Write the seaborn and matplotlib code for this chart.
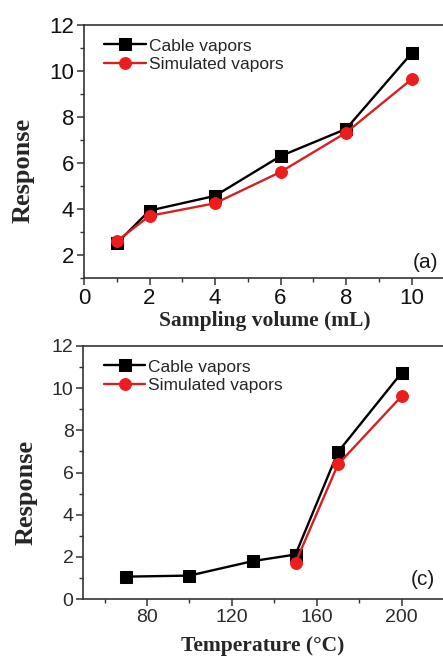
import matplotlib
matplotlib.use("Agg")
import matplotlib.pyplot as plt
import seaborn as sns
from matplotlib.ticker import MultipleLocator

# (a) response vs sampling volume
volume = [1, 2, 4, 6, 8, 10]
cable_vol = [2.51, 3.93, 4.57, 6.30, 7.48, 10.77]
sim_vol = [2.60, 3.70, 4.25, 5.61, 7.32, 9.64]

# (c) response vs temperature
temp_cable = [70, 100, 130, 150, 170, 200]
cable_temp = [1.06, 1.11, 1.80, 2.11, 6.97, 10.73]
temp_sim = [150, 170, 200]
sim_temp = [1.73, 6.38, 9.62]

sns.set_style("ticks")
plt.rcParams['font.family'] = ['Liberation Sans', 'DejaVu Sans']

BLACK = "#000000"
RED_LINE = "#d42222"
RED_MARK = "#ee1c1c"
SPINE = "#333333"
serif_bold = dict(family=['Liberation Serif', 'DejaVu Serif'], weight='bold')

fig = plt.figure(figsize=(4.43, 6.57), dpi=100)
ax1 = fig.add_axes([84 / 443, 1 - 278 / 657, (443 - 84) / 443, 253 / 657])
ax2 = fig.add_axes([83.3 / 443, 1 - 599 / 657, (443 - 83.3) / 443, 253 / 657])


def draw_panel(ax, x1, y1, x2, y2, ticksize, labelcolor):
    sns.lineplot(x=x1, y=y1, ax=ax, color=BLACK, linewidth=1.7, marker='s',
                 markersize=8, markerfacecolor=BLACK, markeredgecolor=BLACK,
                 label='Cable vapors')
    sns.lineplot(x=x2, y=y2, ax=ax, color=RED_LINE, linewidth=1.7, marker='o',
                 markersize=8.5, markerfacecolor=RED_MARK, markeredgecolor=RED_MARK,
                 label='Simulated vapors')
    for side in ['left', 'bottom', 'top']:
        ax.spines[side].set_color(SPINE)
        ax.spines[side].set_linewidth(1.2)
    ax.spines['right'].set_visible(False)
    ax.tick_params(which='major', direction='out', length=5, width=1.1,
                   color=SPINE, labelsize=ticksize, labelcolor=labelcolor, pad=2)
    ax.tick_params(which='minor', direction='out', length=3, width=1.0, color=SPINE)
    ax.tick_params(top=False, right=False)
    ax.legend(loc='upper left', bbox_to_anchor=(0.057, 0.947), frameon=False,
              fontsize=12.5, handlelength=2.4, handletextpad=0.15,
              labelspacing=0.2, borderpad=0, borderaxespad=0)


draw_panel(ax1, volume, cable_vol, volume, sim_vol, 16, '#111111')
ax1.set_xlim(0, 10.96)
ax1.set_ylim(1, 12)
ax1.xaxis.set_major_locator(MultipleLocator(2))
ax1.xaxis.set_minor_locator(MultipleLocator(1))
ax1.yaxis.set_major_locator(MultipleLocator(2))
ax1.yaxis.set_minor_locator(MultipleLocator(1))
ax1.set_xlabel('Sampling volume (mL)', fontsize=15.5, **serif_bold)
ax1.set_ylabel('Response', fontsize=19, **serif_bold)
ax1.xaxis.set_label_coords(0.503, -0.17)
ax1.yaxis.set_label_coords(-0.17, 0.427)
ax1.xaxis.label.set_va('center')
ax1.yaxis.label.set_va('center')
ax1.text(0.95, 0.063, '(a)', transform=ax1.transAxes, fontsize=15,
         ha='center', va='center', color='#1a1a1a')

draw_panel(ax2, temp_cable, cable_temp, temp_sim, sim_temp, 14, '#2a2a2a')
ax2.set_xlim(50, 219.5)
ax2.set_ylim(0, 12)
ax2.xaxis.set_major_locator(MultipleLocator(40))
ax2.xaxis.set_minor_locator(MultipleLocator(20))
ax2.yaxis.set_major_locator(MultipleLocator(2))
ax2.yaxis.set_minor_locator(MultipleLocator(1))
ax2.set_xlabel('Temperature (°C)', fontsize=15.5, **serif_bold)
ax2.set_ylabel('Response', fontsize=19, **serif_bold)
ax2.xaxis.set_label_coords(0.5, -0.186)
ax2.yaxis.set_label_coords(-0.159, 0.423)
ax2.xaxis.label.set_va('center')
ax2.yaxis.label.set_va('center')
ax2.text(0.944, 0.079, '(c)', transform=ax2.transAxes, fontsize=15,
         ha='center', va='center', color='#1a1a1a')

fig.savefig('out.png', dpi=100)
